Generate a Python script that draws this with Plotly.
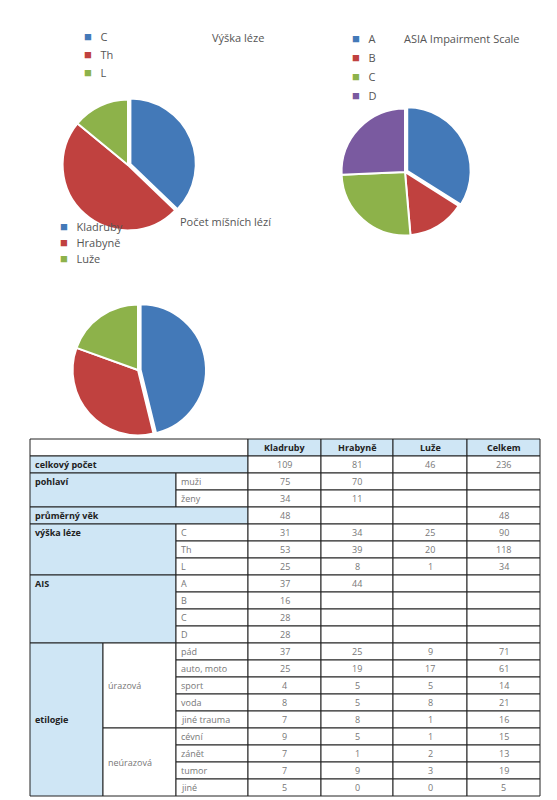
import plotly.graph_objects as go

W, H = 557, 800
OFF = 8  # page body margin shifts the figure
BLUE, RED, GREEN, PURPLE = "#4379b8", "#c0413f", "#8db24a", "#7a5aa0"
CELL_BLUE = "#cfe6f5"

# pie data
vyska_labels = ["C", "Th", "L"]
vyska_values = [90, 118, 34]
asia_labels = ["A", "B", "C", "D"]
asia_values = [37, 16, 28, 28]
pocet_labels = ["Kladruby", "Hrabyně", "Luže"]
pocet_values = [109, 81, 46]

# table data
centra = ["Kladruby", "Hrabyně", "Luže", "Celkem"]
celkem_row = ["109", "81", "46", "236"]
pohlavi_labels = ["muži", "ženy"]
pohlavi_values = [["75", "70", "", ""], ["34", "11", "", ""]]
vek_row = ["48", "", "", "48"]
vyska_rows = [["31", "34", "25", "90"], ["53", "39", "20", "118"], ["25", "8", "1", "34"]]
ais_labels = ["A", "B", "C", "D"]
ais_rows = [["37", "44", "", ""], ["16", "", "", ""], ["28", "", "", ""], ["28", "", "", ""]]
urazova_labels = ["pád", "auto, moto", "sport", "voda", "jiné trauma"]
urazova_rows = [["37", "25", "9", "71"], ["25", "19", "17", "61"], ["4", "5", "5", "14"],
                ["8", "5", "8", "21"], ["7", "8", "1", "16"]]
neurazova_labels = ["cévní", "zánět", "tumor", "jiné"]
neurazova_rows = [["9", "5", "1", "15"], ["7", "1", "2", "13"], ["7", "9", "3", "19"], ["5", "0", "0", "5"]]


def px(x):
    return (x - OFF) / W


def py(y):
    return 1 - (y - OFF) / H


fig = go.Figure()

def add_pie(labels, values, colors, cx, cy, r):
    fig.add_trace(go.Pie(
        labels=labels, values=values, sort=False, direction="clockwise", rotation=0,
        marker=dict(colors=colors, line=dict(color="white", width=2)),
        textinfo="none", hoverinfo="label+value", showlegend=False,
        pull=[0.04] + [0] * (len(values) - 1),
        domain=dict(x=[px(cx - r), px(cx + r)], y=[py(cy + r), py(cy - r)]),
    ))

add_pie(vyska_labels, vyska_values, [BLUE, RED, GREEN], 128, 165, 68)
add_pie(asia_labels, asia_values, [BLUE, RED, GREEN, PURPLE], 405, 172, 66)
add_pie(pocet_labels, pocet_values, [BLUE, RED, GREEN], 138, 370, 68)

ann = []
FONT = "Open Sans"

def legend(labels, colors, x, y0, dy):
    for i, (lab, col) in enumerate(zip(labels, colors)):
        y = y0 + i * dy
        ann.append(dict(x=px(x), y=py(y), text=f"<span style='color:{col};font-size:13px'>■</span>&nbsp;&nbsp;&nbsp;{lab}",
                        showarrow=False, xanchor="left", yanchor="middle",
                        font=dict(family=FONT, size=11, color="#555")))

legend(vyska_labels, [BLUE, RED, GREEN], 82, 36, 18)
legend(asia_labels, [BLUE, RED, GREEN, PURPLE], 350, 38, 19)
legend(pocet_labels, [BLUE, RED, GREEN], 58, 226, 16)
for t, x, y in [("Výška léze", 210, 38), ("ASIA Impairment Scale", 402, 39), ("Počet míšních lézí", 178, 221)]:
    ann.append(dict(x=px(x), y=py(y), text=t, showarrow=False, xanchor="left", yanchor="middle",
                    font=dict(family=FONT, size=11, color="#555")))

# table
XS = [30, 103, 176, 248, 321, 393, 467, 540]
Y0, RH = 439, 17.0
shapes = []

def cell(c0, c1, r0, r1, text="", fill="white", bold=False, align="left", valign="top", size=9):
    x0, x1 = XS[c0], XS[c1]
    y0, y1 = Y0 + r0 * RH, Y0 + r1 * RH
    shapes.append(dict(type="rect", xref="paper", yref="paper", x0=px(x0), x1=px(x1),
                       y0=py(y1), y1=py(y0), fillcolor=fill, line=dict(color="#222", width=1)))
    if text:
        if align == "center":
            x, xa = (x0 + x1) / 2, "center"
        else:
            x, xa = x0 + 3, "left"
        y = y0 + RH / 2 if valign == "top" else (y0 + y1) / 2
        ann.append(dict(x=px(x), y=py(y), text=f"<b>{text}</b>" if bold else text, showarrow=False,
                        xanchor=xa, yanchor="middle",
                        font=dict(family=FONT, size=size, color="#222" if bold else "#777")))

def values(r, vals):
    for i, v in enumerate(vals):
        cell(3 + i, 4 + i, r, r + 1, v, align="center")

cell(0, 3, 0, 1)
for i, c in enumerate(centra):
    cell(3 + i, 4 + i, 0, 1, c, fill=CELL_BLUE, bold=True, align="center")
cell(0, 3, 1, 2, "celkový počet", fill=CELL_BLUE, bold=True)
values(1, celkem_row)
cell(0, 2, 2, 4, "pohlaví", fill=CELL_BLUE, bold=True)
for i, (lab, v) in enumerate(zip(pohlavi_labels, pohlavi_values)):
    cell(2, 3, 2 + i, 3 + i, lab)
    values(2 + i, v)
cell(0, 3, 4, 5, "průměrný věk", fill=CELL_BLUE, bold=True)
values(4, vek_row)
cell(0, 2, 5, 8, "výška léze", fill=CELL_BLUE, bold=True)
for i, (lab, v) in enumerate(zip(vyska_labels, vyska_rows)):
    cell(2, 3, 5 + i, 6 + i, lab)
    values(5 + i, v)
cell(0, 2, 8, 12, "AIS", fill=CELL_BLUE, bold=True)
for i, (lab, v) in enumerate(zip(ais_labels, ais_rows)):
    cell(2, 3, 8 + i, 9 + i, lab)
    values(8 + i, v)
cell(0, 1, 12, 21, "etilogie", fill=CELL_BLUE, bold=True, valign="middle")
cell(1, 2, 12, 17, "úrazová", valign="middle")
for i, (lab, v) in enumerate(zip(urazova_labels, urazova_rows)):
    cell(2, 3, 12 + i, 13 + i, lab)
    values(12 + i, v)
cell(1, 2, 17, 21, "neúrazová", valign="middle")
for i, (lab, v) in enumerate(zip(neurazova_labels, neurazova_rows)):
    cell(2, 3, 17 + i, 18 + i, lab)
    values(17 + i, v)

fig.update_layout(width=W, height=H, margin=dict(l=0, r=0, t=0, b=0),
                  paper_bgcolor="white", plot_bgcolor="white",
                  shapes=shapes, annotations=ann, showlegend=False)
fig.write_html("out.html")
